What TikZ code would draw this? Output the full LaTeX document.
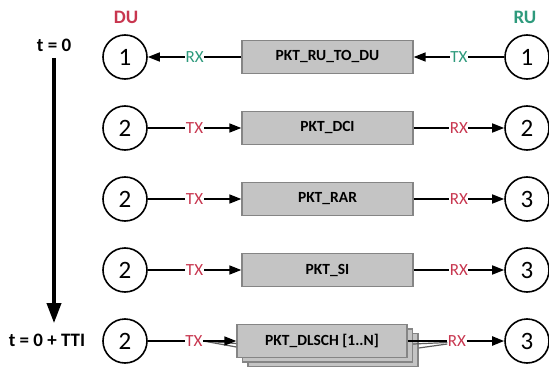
\documentclass[tikz,border=0pt]{standalone}
\usepackage{fontspec}
\setmainfont{Carlito}
\usetikzlibrary{arrows.meta}
\definecolor{dured}{HTML}{C8364F}
\definecolor{ruteal}{HTML}{2E9A7C}
\definecolor{pktfill}{HTML}{C4C4C4}
\definecolor{pktline}{HTML}{858585}
\begin{document}
\begin{tikzpicture}[x=1pt,y=-1pt,
  unit/.style={circle,draw,line width=1.6pt,minimum size=44pt,inner sep=0pt,font=\fontsize{25}{25}\selectfont},
  pkt/.style={rectangle,draw=pktline,fill=pktfill,line width=1.4pt,minimum width=171pt,minimum height=33pt,inner sep=0pt,font=\fontsize{15.5}{17}\selectfont\bfseries},
  sig/.style={line width=1.6pt,-{Triangle[length=12pt,width=9pt]}},
  lab/.style={fill=white,inner sep=0.5pt,font=\fontsize{17}{17}\selectfont},
  side/.style={font=\fontsize{19}{19}\selectfont\bfseries}]
\useasboundingbox (0,0) rectangle (549,369);
% headers and time axis
\node[side,text=dured] (du) at (126,17) {DU};
\node[side,text=ruteal] (ru) at (525,17) {RU};
\node[font=\fontsize{19}{19}\selectfont\bfseries] (t0) at (54,45) {t = 0};
\node[font=\fontsize{19}{19}\selectfont\bfseries] (t1) at (47,340) {t = 0 + TTI};
\draw[line width=3.5pt,-{Triangle[length=20pt,width=14pt]},shorten <=3pt,shorten >=7pt] (t0.south) -- (t0.south |- t1.north);
% row 1: RU -> DU
\node[unit] (du1) at (125,57) {1};
\node[unit] (ru1) at (527,57) {1};
\node[pkt] (pkt1) at (327.5,57) {PKT\_RU\_TO\_DU};
\draw[sig] (pkt1) -- node[lab,text=ruteal] {RX} (du1);
\draw[sig] (ru1) -- node[lab,text=ruteal] {TX} (pkt1);
% rows 2-4: DU -> RU
\foreach \r/\y/\a/\b/\txt in {2/128/2/2/PKT\_DCI,3/199/2/3/PKT\_RAR,4/270/2/3/PKT\_SI}{
  \node[unit] (du\r) at (125,\y) {\a};
  \node[unit] (ru\r) at (527,\y) {\b};
  \node[pkt] (pkt\r) at (327.5,\y) {\txt};
  \draw[sig] (du\r) -- node[lab,text=dured] {TX} (pkt\r);
  \draw[sig] (pkt\r) -- node[lab,text=dured] {RX} (ru\r);
}
% row 5: stacked DLSCH packets
\node[unit] (du5) at (125,341) {2};
\node[unit] (ru5) at (527,341) {3};
\node[pkt,minimum width=170pt] (pkt5c) at (333,350) {};
\node[pkt,minimum width=170pt] (pkt5b) at (327.5,345.5) {};
\node[pkt,minimum width=170pt] (pkt5) at (322,341) {PKT\_DLSCH [1..N]};
\node[lab,text=dured] (tx5) at (194,341) {TX};
\node[lab,text=dured] (rx5) at (457,341) {RX};
\draw[line width=1.6pt] (du5) -- (tx5);
\draw[pktline!70!black,line width=1.2pt] (tx5.east) -- ([yshift=-2.5pt]pkt5.west);
\draw[pktline!70!black,line width=1.2pt] (tx5.east) -- ([yshift=-6pt]pkt5.west);
\draw[sig] (tx5) -- (pkt5);
\draw[pktline!70!black,line width=1.2pt] ([yshift=1.5pt]pkt5b.east) -- ([yshift=-1.5pt]rx5.west);
\draw[pktline!70!black,line width=1.2pt] ([yshift=2pt]pkt5c.east) -- ([yshift=-3pt]rx5.west);
\draw[line width=1.6pt] (pkt5) -- (rx5);
\draw[sig,line width=2.2pt] (rx5) -- (ru5);
\end{tikzpicture}
\end{document}
